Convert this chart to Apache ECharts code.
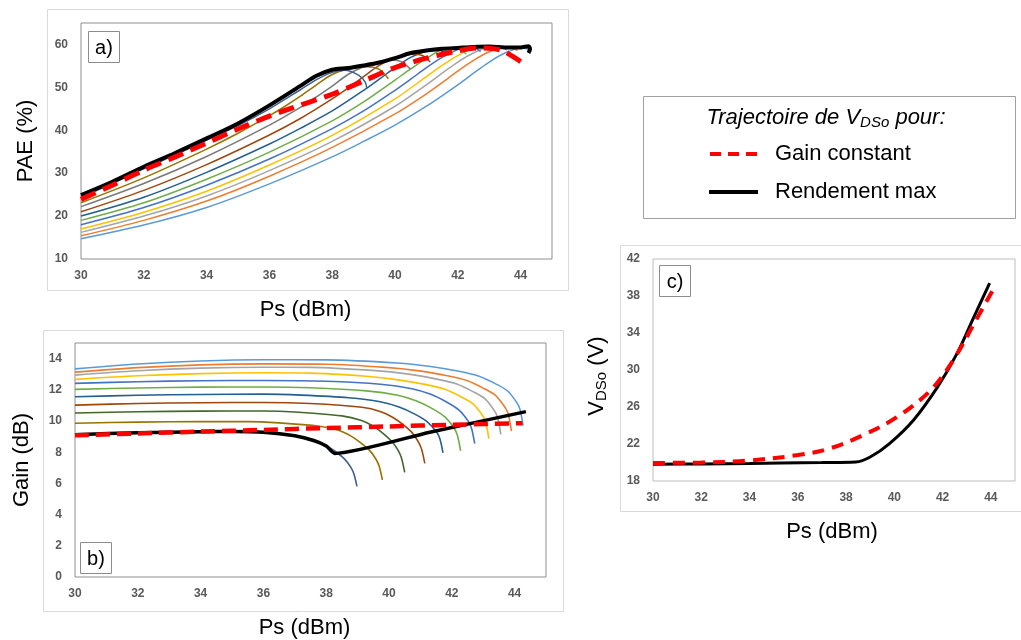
<!DOCTYPE html>
<html>
<head>
<meta charset="utf-8">
<script src="https://cdn.jsdelivr.net/npm/echarts@6/dist/echarts.min.js"></script>
<style>html,body{margin:0;padding:0;background:#fff}#c{width:1021px;height:640px}</style>
</head>
<body>
<div id="c"></div>
<script>
// ---- data (Ps in dBm) ----
const gainCurves = [
  [[30,13.34],[32,13.65],[34,13.85],[36,13.93],[38,13.92],[40.27,13.72],[41.27,13.51],[42.27,13.17],[42.87,12.87],[43.37,12.41],[43.77,11.94],[44.07,11.18],[44.17,10.76],[44.27,9.7]],
  [[30,13.13],[32,13.42],[34,13.6],[36,13.66],[38,13.64],[39.9,13.44],[40.9,13.23],[41.9,12.88],[42.5,12.58],[43.0,12.11],[43.4,11.63],[43.7,10.86],[43.8,10.43],[43.9,9.35]],
  [[30,12.94],[32,13.22],[34,13.39],[36,13.45],[37.5,13.44],[39.56,13.23],[40.56,13.02],[41.56,12.67],[42.16,12.37],[42.66,11.9],[43.06,11.42],[43.36,10.65],[43.46,10.22],[43.56,9.14]],
  [[30,12.67],[32,12.9],[34,13.04],[36,13.09],[37.5,13.07],[39.18,12.88],[40.18,12.67],[41.18,12.33],[41.78,12.03],[42.28,11.57],[42.68,11.1],[42.98,10.35],[43.08,9.92],[43.18,8.87]],
  [[30,12.41],[32,12.52],[34,12.58],[36,12.6],[38,12.55],[39.73,12.36],[40.73,12.07],[41.33,11.71],[41.83,11.22],[42.23,10.7],[42.53,9.97],[42.63,9.52],[42.73,8.55]],
  [[30,12.03],[32,12.12],[34,12.17],[36,12.18],[37.5,12.13],[39.28,11.93],[40.28,11.65],[40.88,11.28],[41.38,10.79],[41.78,10.26],[42.08,9.52],[42.18,9.07],[42.28,8.09]],
  [[30,11.55],[32,11.65],[34,11.7],[36,11.72],[37.2,11.66],[38.72,11.49],[39.72,11.23],[40.32,10.89],[40.82,10.44],[41.22,9.95],[41.52,9.28],[41.62,8.86],[41.72,7.96]],
  [[30,11.02],[32,11.12],[34,11.17],[36,11.19],[37.5,11.12],[39.14,10.88],[39.74,10.6],[40.14,10.21],[40.44,9.78],[40.74,9.24],[40.94,8.65],[41.04,8.18],[41.14,7.28]],
  [[30,10.51],[32,10.59],[34,10.63],[36,10.64],[37,10.58],[38.5,10.33],[39.1,10.05],[39.5,9.66],[39.8,9.23],[40.1,8.67],[40.3,8.09],[40.4,7.61],[40.5,6.71]],
  [[30,9.86],[32,9.93],[34,9.96],[35.5,9.96],[36.5,9.88],[37.79,9.66],[38.39,9.4],[38.79,9.03],[39.09,8.62],[39.39,8.1],[39.59,7.53],[39.69,7.09],[39.79,6.23]],
  [[30,9.12],[32,9.25],[34,9.31],[35,9.33],[36,9.28],[36.98,9.05],[37.58,8.8],[37.98,8.45],[38.28,8.06],[38.58,7.57],[38.78,7.04],[38.88,6.62],[38.98,5.81]]
];
const redGain = [[30,9.08],[32,9.2],[34,9.32],[36,9.43],[38,9.55],[40,9.65],[42,9.76],[44.25,9.86]];
const blackGain = [[30,9.12],[32,9.25],[34,9.31],[35,9.33],[36,9.28],[37,9.05],[37.6,8.75],[38,8.4],[38.27,7.92],[41.3,9.28],[44.36,10.6]];

const paeCurves = [
  [[30,14.7],[32,17.9],[34,22.0],[36,27.5],[38,33.8],[39,37.4],[40,41.2],[41,45.6],[42,50.6],[42.5,53.3],[43,55.9],[43.5,58.0],[44.0,59.2],[44.2,59.0],[44.27,58.4]],
  [[30,15.4],[32,19.0],[34,23.5],[36,29.3],[38,36.0],[40,43.8],[41,48.5],[41.5,51.1],[42,53.8],[42.5,56.3],[43,58.3],[43.5,59.3],[43.7,59.2],[43.9,58.6]],
  [[30,16.2],[32,20.0],[34,24.7],[36,30.6],[38,37.4],[40,45.6],[41,50.6],[41.5,53.3],[42,55.9],[42.5,58.0],[43,59.4],[43.3,59.5],[43.56,58.7]],
  [[30,17.0],[32,20.9],[34,25.8],[36,31.9],[38,38.8],[40,47.3],[41,52.5],[41.5,55.1],[42,57.4],[42.5,59.2],[42.85,59.4],[43.18,58.8]],
  [[30,18.0],[32,22.0],[34,27.2],[36,33.3],[38,40.4],[39,44.5],[40,49.3],[40.5,51.9],[41,54.6],[41.5,57.0],[42,58.8],[42.3,59.2],[42.55,59.1],[42.73,58.4]],
  [[30,19.0],[32,23.1],[34,28.6],[36,34.9],[38,42.2],[39,46.6],[40,51.7],[40.5,54.3],[41,56.7],[41.6,59.0],[41.95,59.0],[42.27,57.8]],
  [[30,20.0],[32,24.4],[34,30.2],[36,36.8],[37,40.5],[38,44.5],[39,49.3],[39.5,51.9],[40,54.6],[40.5,57.0],[41,58.4],[41.4,58.6],[41.72,57.6]],
  [[30,21.0],[32,26.0],[34,32.0],[36,38.9],[37,42.8],[38,47.3],[38.5,49.8],[39,52.5],[39.5,55.1],[40,56.9],[40.5,57.7],[40.85,57.5],[41.12,55.9]],
  [[30,22.2],[32,27.6],[34,33.9],[36,41.2],[37,45.4],[37.5,47.8],[38,50.3],[38.5,53.0],[39,54.8],[39.5,56.0],[39.9,56.4],[40.2,56.0],[40.5,54.2]],
  [[30,23.1],[32,28.9],[34,35.6],[35,39.3],[36,43.4],[36.5,45.6],[37,48.0],[37.5,50.6],[38,53.0],[38.5,54.2],[39.1,54.8],[39.5,54.2],[39.79,52.0]],
  [[30,24.3],[31,27.6],[32,31.0],[33,34.3],[34,37.7],[35,41.1],[36,45.0],[37,49.5],[37.5,51.8],[38,53.5],[38.4,54.0],[38.85,52.8],[39.05,51.2],[39.1,49.8]]
];
const redPae = [[30,23.9],[31,27.2],[32,30.7],[33,33.8],[34,37.0],[35,40.3],[36,43.3],[37,45.9],[38,48.4],[39,51.5],[40,54.6],[41,56.8],[42,58.5],[42.7,59.2],[43.4,58.6],[44.1,55.5]];
const blackPae = [[30,24.9],[31,28.0],[32,31.5],[33,34.7],[34,38.1],[35,41.6],[36,45.8],[37,50.4],[37.5,52.7],[38,54.1],[38.5,54.5],[39,55.1],[39.5,55.8],[40,56.8],[40.5,58.0],[41,58.6],[41.5,59.0],[42,59.2],[42.5,59.4],[43,59.5],[43.5,59.3],[44,59.3],[44.25,59.6],[44.3,58.9],[44.25,58.0]];

const redVds = [[30,19.95],[32,20.0],[33.9,20.2],[36,20.8],[37.3,21.5],[38.7,22.95],[40.1,24.9],[41.5,27.8],[42.45,31.1],[43.3,35.0],[44.2,39.2]];
const blackVds = [[30,19.8],[32,19.85],[34,19.9],[35.3,19.95],[37,20.0],[38.4,20.06],[39,20.6],[39.8,22.05],[40.8,24.6],[41.8,28.2],[42.6,31.8],[43.3,35.75],[43.95,39.4]];

const legendLabels = ['Gain constant', 'Rendement max'];
const panelLabels = ['a)', 'b)', 'c)'];

// ---- styles ----
const paeColors = ['#5B9BD5','#ED7D31','#A5A5A5','#FFC000','#4472C4','#70AD47','#255E91','#9E480E','#7A7A7A','#997300','#3E5F8F'];
const gainColors = ['#5B9BD5','#ED7D31','#A5A5A5','#FFC000','#4472C4','#70AD47','#255E91','#9E480E','#43682B','#997300','#3E5F8F'];
const FONT = 'Liberation Sans';
const tickLabel = {fontSize: 12, fontWeight: 'bold', color: '#595959', fontFamily: FONT};
const nameStyle = {fontSize: 22, color: '#000', fontFamily: FONT};

function xAxis(gi, gap, pad) {
  return {type: 'value', gridIndex: gi, min: 30, max: 45, interval: 2,
    axisLine: {show: false}, axisTick: {show: false}, splitLine: {show: false},
    axisLabel: Object.assign({margin: 11, showMaxLabel: false}, tickLabel),
    name: 'Ps (dBm)', nameLocation: 'middle', nameGap: gap,
    nameTextStyle: Object.assign({padding: pad}, nameStyle)};
}
function yAxis(gi, min, max, interval, name, gap, hideMax, extra) {
  return Object.assign({type: 'value', gridIndex: gi, min: min, max: max, interval: interval,
    axisLine: {show: false}, axisTick: {show: false}, splitLine: {show: false},
    axisLabel: Object.assign({margin: 13, showMaxLabel: !hideMax}, tickLabel),
    name: name, nameLocation: 'middle', nameGap: gap,
    nameTextStyle: Object.assign({}, nameStyle)}, extra || {});
}

const series = [];
paeCurves.forEach((c, i) => series.push({type: 'line', xAxisIndex: 0, yAxisIndex: 0, data: c,
  showSymbol: false, smooth: 0.3, lineStyle: {width: 1.5, color: paeColors[i]}, z: 2}));
series.push({type: 'line', xAxisIndex: 0, yAxisIndex: 0, data: blackPae, showSymbol: false, smooth: 0.3,
  lineStyle: {width: 4, color: '#000'}, z: 3});
series.push({type: 'line', xAxisIndex: 0, yAxisIndex: 0, data: redPae, showSymbol: false, smooth: 0.3,
  lineStyle: {width: 5, color: '#FF0000', type: [16, 8]}, z: 4});

gainCurves.forEach((c, i) => series.push({type: 'line', xAxisIndex: 1, yAxisIndex: 1, data: c,
  showSymbol: false, smooth: 0.3, lineStyle: {width: 1.6, color: gainColors[i]}, z: 2}));
series.push({type: 'line', xAxisIndex: 1, yAxisIndex: 1, data: blackGain, showSymbol: false, smooth: 0.2,
  lineStyle: {width: 3.5, color: '#000'}, z: 3});
series.push({type: 'line', xAxisIndex: 1, yAxisIndex: 1, data: redGain, showSymbol: false, smooth: 0.3,
  lineStyle: {width: 4.5, color: '#FF0000', type: [14, 7]}, z: 4});

series.push({type: 'line', name: legendLabels[1], xAxisIndex: 2, yAxisIndex: 2, data: blackVds, showSymbol: false, smooth: 0.35,
  lineStyle: {width: 3, color: '#000'}, z: 3});
series.push({type: 'line', name: legendLabels[0], xAxisIndex: 2, yAxisIndex: 2, data: redVds, showSymbol: false, smooth: 0.35,
  lineStyle: {width: 4, color: '#FF0000', type: [12, 8]}, z: 4});

function frame(x1, y1, x2, y2, color) {
  return {type: 'rect', shape: {x: x1, y: y1, width: x2 - x1, height: y2 - y1},
    style: {fill: null, stroke: color, lineWidth: 1}, silent: true, z: 0};
}
function labelBox(x1, y1, x2, y2, txt) {
  return [
    {type: 'rect', shape: {x: x1, y: y1, width: x2 - x1, height: y2 - y1},
      style: {fill: '#fff', stroke: '#8C8C8C', lineWidth: 1}, z: 10},
    {type: 'text', x: (x1 + x2) / 2, y: (y1 + y2) / 2 + 1, z: 11,
      style: {text: txt, font: '20px "Liberation Sans"', fill: '#000', align: 'center', verticalAlign: 'middle'}}
  ];
}

const graphic = [
  frame(47.5, 9.5, 568.5, 290.5, '#D9D9D9'),
  frame(43.5, 330.5, 563.5, 611.5, '#D9D9D9'),
  frame(620.5, 245.5, 1030, 511.5, '#D9D9D9'),
  frame(643.5, 96.5, 1015.5, 218.5, '#A0A0A0'),
  ...labelBox(88.5, 31.5, 119.5, 62.5, panelLabels[0]),
  ...labelBox(80.5, 542.5, 111.5, 573.5, panelLabels[1]),
  ...labelBox(659.5, 265.5, 690.5, 296.5, panelLabels[2]),
  {type: 'text', x: 826, y: 118, z: 11,
    style: {text: '{i|Trajectoire de V}{s|DSo}{i| pour:}', align: 'center', verticalAlign: 'middle',
      rich: {i: {fontSize: 22, fontStyle: 'italic', fontFamily: FONT, fill: '#000', color: '#000'},
             s: {fontSize: 15, fontStyle: 'italic', fontFamily: FONT, fill: '#000', color: '#000', padding: [10, 0, 0, 0]}}}},
  {type: 'line', shape: {x1: 710, y1: 154, x2: 758, y2: 154}, z: 11,
    style: {stroke: '#FF0000', lineWidth: 4, lineDash: [11, 7]}},
  {type: 'text', x: 775, y: 154, z: 11,
    style: {text: legendLabels[0], font: '22px "Liberation Sans"', fill: '#000', align: 'left', verticalAlign: 'middle'}},
  {type: 'line', shape: {x1: 709, y1: 192, x2: 758, y2: 192}, z: 11,
    style: {stroke: '#000', lineWidth: 4}},
  {type: 'text', x: 775, y: 192, z: 11,
    style: {text: legendLabels[1], font: '22px "Liberation Sans"', fill: '#000', align: 'left', verticalAlign: 'middle'}}
];

const option = {
  animation: false,
  backgroundColor: '#fff',
  grid: [
    {left: 81, top: 23, width: 471, height: 236, show: true, borderColor: '#8F8F8F', borderWidth: 1, backgroundColor: 'transparent'},
    {left: 75, top: 343, width: 471, height: 237, show: true, borderColor: '#8F8F8F', borderWidth: 1, backgroundColor: 'transparent'},
    {left: 653, top: 259, width: 362, height: 222, show: true, borderColor: '#BDBDBD', borderWidth: 1, backgroundColor: 'transparent'}
  ],
  xAxis: [xAxis(0, 40, [0, 22, 0, 0]), xAxis(1, 40, [0, 12, 0, 0]), xAxis(2, 40, [0, 4, 0, 0])],
  yAxis: [
    yAxis(0, 10, 65, 10, 'PAE (%)', 44, true),
    yAxis(1, 0, 15, 2, 'Gain (dB)', 42, true),
    yAxis(2, 18, 42, 4, '{v|V}{s|DSo}{v| (V)}', 44, false, {
      nameTextStyle: {fontSize: 22, color: '#000', fontFamily: FONT, padding: [0, 12, 0, 0],
        rich: {v: {fontSize: 22, fontFamily: FONT, color: '#000'},
               s: {fontSize: 15, fontFamily: FONT, color: '#000', padding: [10, 0, 0, 0]}}}
    })
  ],
  series: series,
  graphic: graphic
};

const chart = echarts.init(document.getElementById('c'), null, {renderer: 'canvas'});
chart.setOption(option);
</script>
</body>
</html>
